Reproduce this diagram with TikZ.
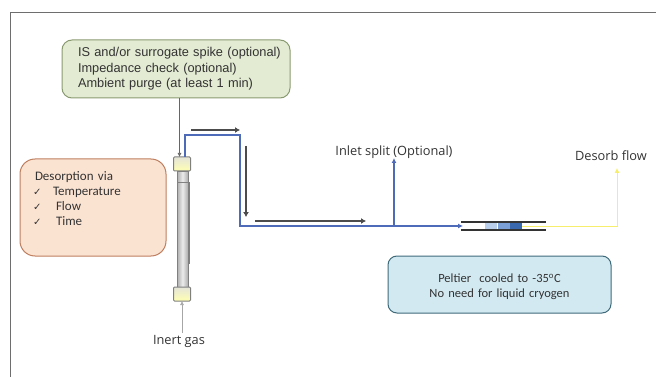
\documentclass[tikz,border=0pt]{standalone}
\usepackage{fontspec}
\setmainfont{Liberation Sans}
\newfontfamily\symbolfont{DejaVu Sans}
\newfontfamily\calloutfont{Carlito}
\newfontfamily\captionfont{Open Sans}
\usetikzlibrary{arrows.meta}
\definecolor{frameGray}{HTML}{6E6E6E}
\definecolor{flowBlue}{HTML}{4D6BB8}
\definecolor{textGray}{HTML}{333333}
\definecolor{spikeFill}{HTML}{E3EBD3}
\definecolor{spikeLine}{HTML}{8A9A70}
\definecolor{desorbFill}{HTML}{FBE3D2}
\definecolor{desorbLine}{HTML}{BF7F5F}
\definecolor{peltierFill}{HTML}{D2E9F1}
\definecolor{peltierLine}{HTML}{3F6A7A}
\definecolor{desorbYellow}{HTML}{F7EE6E}
\definecolor{trapLight}{HTML}{B8CEEA}
\definecolor{trapMid}{HTML}{7BA0D8}
\definecolor{trapDark}{HTML}{3A68AE}
\newcommand{\tick}[1]{\makebox[#1][l]{\symbolfont\fontsize{10}{15}\selectfont ✓}}

\begin{document}
\begin{tikzpicture} [
		x = 1pt,
		y = -1pt,
		box/.style = {
			rectangle,
			line width = 1pt,
			inner ysep = 0pt,
			text = textGray,
		},
		caption/.style = {
			inner sep = 0pt,
			text = textGray,
			font = \captionfont\fontsize{12.8}{15}\selectfont,
		},
		spike-box/.style = {
			box,
			rounded corners = 10pt,
			draw = spikeLine,
			fill = spikeFill,
			align = left,
			inner xsep = 8pt,
			text width = 212pt,
			minimum height = 58pt,
			font = \fontsize{12.8}{15.5}\selectfont,
		},
		desorb-box/.style = {
			box,
			rounded corners = 15pt,
			draw = desorbLine,
			fill = desorbFill,
			align = left,
			inner xsep = 15pt,
			text width = 116pt,
			minimum height = 97pt,
			font = \calloutfont\fontsize{13}{14.7}\selectfont,
		},
		peltier-box/.style = {
			box,
			rounded corners = 9pt,
			draw = peltierLine,
			fill = peltierFill,
			align = center,
			inner xsep = 0pt,
			text width = 223pt,
			minimum height = 57pt,
			font = \calloutfont\fontsize{12.5}{15}\selectfont,
		},
		end-cap/.style = {
			rectangle,
			rounded corners = 1pt,
			draw = gray,
			line width = 1pt,
			top color = yellow!20!gray!25,
			bottom color = yellow!30!white,
			minimum width = 17pt,
			minimum height = 14pt,
			inner sep = 0pt,
		},
		tube/.style = {
			rectangle,
			left color = gray!65,
			right color = gray!65,
			middle color = gray!15,
			draw = gray,
			inner sep = 0pt,
			minimum width = 11pt,
			minimum height = 116pt,
		},
		trap-section/.style = {
			rectangle,
			inner sep = 0pt,
			minimum width = 12pt,
			minimum height = 8pt,
		},
		flow/.style = {
			draw = flowBlue,
			line width = 1.6pt,
		},
		flow-tip/.style = {
			flow,
			-{Latex[length=5pt,width=5pt]},
		},
		hint/.style = {
			draw = black!70,
			line width = 1.1pt,
			-{Latex[length=5pt,width=6pt]},
		},
		lead/.style = {
			draw = black!60,
			line width = 0.6pt,
			-{Latex[length=4pt,width=4pt]},
		},
	]

	% page frame
	\useasboundingbox (0, 0) rectangle (656, 377);
	\coordinate (frameEnd) at (656, 12);
	\coordinate (frameCorner) at (10, 12);
	\coordinate (frameFoot) at (10, 377);
	\draw[frameGray, line width = 0.7pt] (frameEnd) -- (frameCorner) -- (frameFoot);

	% boxes
	\node[spike-box] (spike) at (176, 69) {
		\hspace*{8pt}IS and/or surrogate spike (optional)\\
		\hspace*{8pt}Impedance check (optional)\\
		\hspace*{8pt}Ambient purge (at least 1 min)
	};
	\node[desorb-box] (desorb) at (93, 207.5) {
		Desorption via\\
		\hspace{-2pt}\tick{20pt}Temperature\\
		\hspace{-2pt}\tick{23pt}Flow\\
		\hspace{-2pt}\tick{23pt}Time\rule[-18pt]{0pt}{18pt}
	};
	\node[peltier-box] (peltier) at (499.5, 284.5) {
		\rule{0pt}{14pt}Peltier\ \ cooled to -35\textsuperscript{o}C\\
		No need for liquid cryogen
	};

	% desorption tube
	\node[tube] (tube) at (182.5, 229) {};
	\draw[gray, line width = 0.8pt] (189, 182) -- (189, 264);
	\draw[gray, line width = 0.8pt] (177, 182) -- (188, 182);
	\node[end-cap] (capTop) at (182, 164) {};
	\node[end-cap] (capBottom) at (182, 294) {};

	% trap
	\node[trap-section, fill = trapLight] (trapA) at (491, 226) {};
	\node[trap-section, fill = trapMid] (trapB) at (504, 226) {};
	\node[trap-section, fill = trapDark] (trapC) at (516, 226) {};

	% captions
	\node[caption] (inert) at (179, 341) {Inert gas};
	\node[caption] (inlet) at (394, 152) {Inlet split (Optional)};
	\node[caption] (desorbFlow) at (611, 156) {Desorb flow};

	% route points
	\coordinate (flowStart) at (185, 157);
	\coordinate (flowUp) at (185, 135);
	\coordinate (flowRight) at (240, 135);
	\coordinate (flowDown) at (240, 226);
	\coordinate (trapIn) at (463, 226);
	\coordinate (split) at (394, 226);
	\coordinate (splitEnd) at (394, 158);
	\coordinate (trapOut) at (522, 226);
	\coordinate (yellowCorner) at (617, 226);
	\coordinate (yellowEnd) at (617, 168);
	\coordinate (tubeLeftA) at (461, 222);
	\coordinate (tubeRightA) at (546, 222);
	\coordinate (tubeLeftB) at (461, 230);
	\coordinate (tubeRightB) at (546, 230);
	\coordinate (hintAStart) at (191, 130);
	\coordinate (hintAEnd) at (240, 130);
	\coordinate (hintBStart) at (246, 146);
	\coordinate (hintBEnd) at (246, 217);
	\coordinate (hintCStart) at (255, 221);
	\coordinate (hintCEnd) at (366, 221);
	\coordinate (spikeFoot) at (179.5, 98);
	\coordinate (capEntry) at (179.5, 157);
	\coordinate (gasStart) at (182, 333);
	\coordinate (gasEnd) at (182, 301);

	\draw[flow-tip] (flowStart) -- (flowUp) -- (flowRight) -- (flowDown) -- (trapIn);
	\draw[flow-tip] (split) -- (splitEnd);
	\draw[desorbYellow, line width = 0.8pt, -{Latex[length=5pt,width=5pt]}] (trapOut) -- (yellowCorner) -- (yellowEnd);
	\draw[black!80, line width = 1.4pt] (tubeLeftA) -- (tubeRightA);
	\draw[black!80, line width = 1.4pt] (tubeLeftB) -- (tubeRightB);

	\begin{scope} [
		every path/.style = hint
		]
		\path (hintAStart) -- (hintAEnd);
		\path (hintBStart) -- (hintBEnd);
		\path (hintCStart) -- (hintCEnd);
	\end{scope}

	\draw[lead] (spikeFoot) -- (capEntry);
	\draw[lead, draw = gray!70] (gasStart) -- (gasEnd);
\end{tikzpicture}
\end{document}
